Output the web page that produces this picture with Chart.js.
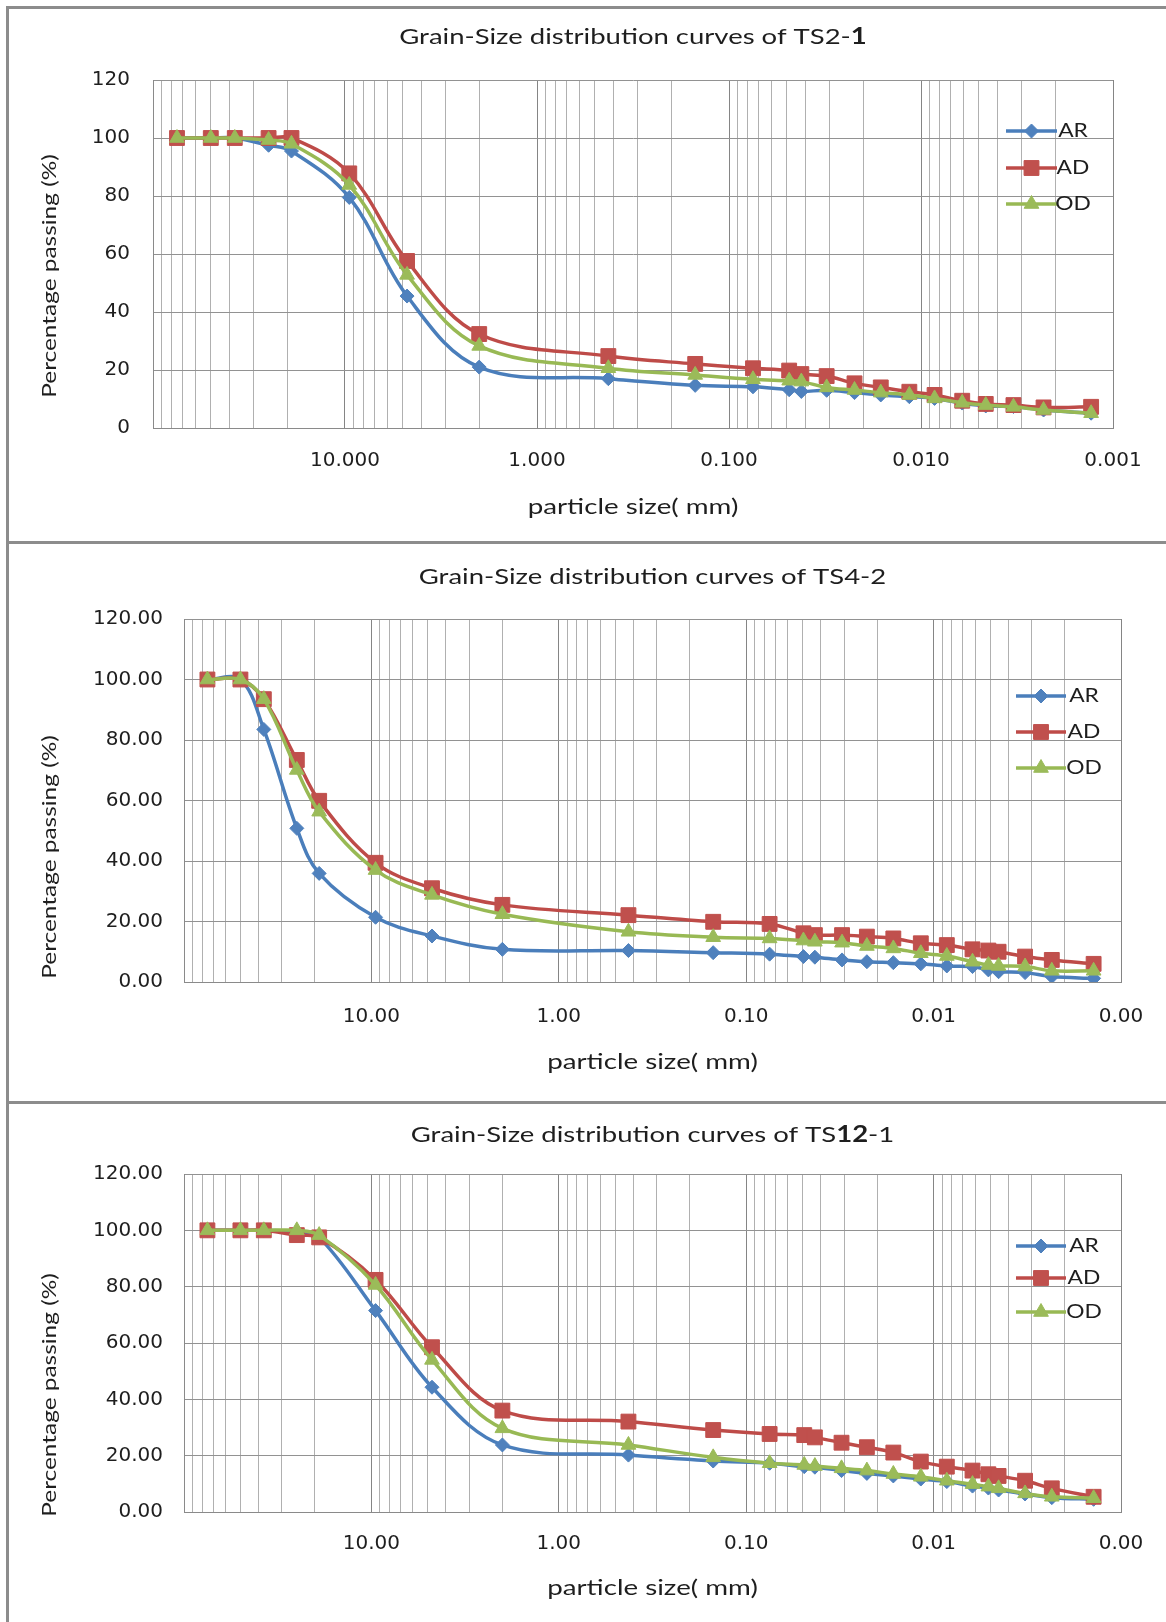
<!DOCTYPE html>
<html>
<head>
<meta charset="utf-8">
<title>Grain-Size distribution curves</title>
<script src="https://cdn.jsdelivr.net/npm/chart.js@4.4.1/dist/chart.umd.min.js"></script>
<style>
  html, body { margin: 0; padding: 0; background: #fff; }
  #page { position: relative; width: 1166px; height: 1622px; overflow: hidden; background: #fff; }
  #page canvas { position: absolute; left: 0; }
  .rule { position: absolute; background: #8c8c8c; }
</style>
</head>
<body>
<div id="page">
  <canvas id="ts21" width="1166" height="543" style="top:0"></canvas>
  <canvas id="ts42" width="1166" height="560" style="top:543px"></canvas>
  <canvas id="ts121" width="1166" height="519" style="top:1103px"></canvas>
  <div class="rule" style="left:6px;top:6px;width:3px;height:1616px"></div>
  <div class="rule" style="left:6px;top:6px;width:1160px;height:3px"></div>
  <div class="rule" style="left:6px;top:541px;width:1160px;height:3px"></div>
  <div class="rule" style="left:6px;top:1101px;width:1160px;height:3px"></div>
</div>
<script>
// ---- sample TS2-1 ----
const sizesTS21 = [75, 50, 37.5, 25, 19, 9.5, 4.75, 2.0, 0.425, 0.15, 0.075, 0.0486, 0.042, 0.031, 0.0222, 0.0162, 0.0115, 0.0085, 0.0061, 0.0046, 0.0033, 0.0023, 0.0013];
const arTS21 = [100, 100, 100, 97.5, 95.5, 79.5, 45.5, 21.0, 17.0, 14.7, 14.2, 13.2, 12.6, 13.0, 12.2, 11.4, 10.8, 10.2, 8.6, 7.6, 7.4, 6.2, 5.1];
const adTS21 = [100, 100, 100, 100, 100, 87.8, 57.6, 32.4, 24.8, 22.1, 20.6, 19.8, 18.6, 17.9, 15.4, 14.0, 12.5, 11.4, 9.4, 8.3, 7.9, 7.1, 7.3];
const odTS21 = [100, 100, 100, 99.3, 98.0, 83.8, 52.8, 28.3, 20.6, 18.3, 16.8, 16.3, 16.0, 14.0, 13.1, 12.2, 11.4, 10.2, 8.7, 7.9, 7.3, 6.2, 5.1];

// ---- sample TS4-2 ----
const sizesTS42 = [75, 50, 37.5, 25, 19, 9.5, 4.75, 2.0, 0.425, 0.15, 0.075, 0.0495, 0.043, 0.0308, 0.0227, 0.0164, 0.0117, 0.0085, 0.0062, 0.0051, 0.0045, 0.00325, 0.00234, 0.0014];
const arTS42 = [100, 100, 83.5, 50.8, 35.9, 21.4, 15.2, 10.8, 10.4, 9.7, 9.2, 8.4, 8.2, 7.3, 6.7, 6.4, 6.0, 5.3, 5.1, 4.0, 3.4, 3.1, 1.8, 1.2];
const adTS42 = [100, 100, 93.5, 73.4, 59.9, 39.4, 31.0, 25.5, 22.1, 19.9, 19.2, 16.1, 15.5, 15.5, 15.0, 14.4, 12.8, 12.2, 10.8, 10.4, 10.0, 8.4, 7.3, 6.0];
const odTS42 = [100, 100, 93.5, 70.1, 56.3, 37.0, 28.8, 22.4, 16.6, 14.8, 14.4, 13.7, 13.3, 13.0, 11.9, 11.1, 9.5, 8.6, 6.7, 5.6, 5.3, 5.1, 3.7, 3.7];

// ---- sample TS12-1 ----
const sizesTS121 = [75, 50, 37.5, 25, 19, 9.5, 4.75, 2.0, 0.425, 0.15, 0.075, 0.049, 0.043, 0.031, 0.0227, 0.0164, 0.0117, 0.0085, 0.0062, 0.0051, 0.0045, 0.00325, 0.00234, 0.0014];
const arTS121 = [100, 100, 100, 99.5, 97.5, 71.5, 44.3, 23.8, 20.2, 18.1, 17.3, 16.1, 15.9, 14.7, 13.7, 12.8, 11.7, 10.8, 9.2, 8.5, 7.8, 6.4, 5.1, 4.5];
const adTS121 = [100, 100, 100, 98.3, 97.5, 82.4, 58.5, 36.0, 32.1, 29.1, 27.7, 27.3, 26.5, 24.6, 23.0, 21.1, 17.9, 16.1, 14.7, 13.4, 12.8, 11.1, 8.4, 5.4];
const odTS121 = [100, 100, 100, 100, 98.3, 80.6, 54.0, 29.7, 23.8, 19.4, 17.3, 16.7, 16.3, 15.5, 14.7, 13.5, 12.5, 11.1, 9.9, 9.0, 8.4, 6.6, 5.4, 4.9];

// axis ticks
const seriesNames = ['AR', 'AD', 'OD'];
const xDecades = [10, 1, 0.1, 0.01, 0.001];
const xLabels3dp = ['10.000', '1.000', '0.100', '0.010', '0.001'];
const xLabels2dp = ['10.00', '1.00', '0.10', '0.01', '0.00'];
const yTicks = [0, 20, 40, 60, 80, 100, 120];
const yLabelsInt = ['0', '20', '40', '60', '80', '100', '120'];
const yLabels2dp = ['0.00', '20.00', '40.00', '60.00', '80.00', '100.00', '120.00'];

const FONT = 'Lato, "Open Sans", sans-serif';
const TICK_FONT = '"DejaVu Sans", Lato, sans-serif';
const TEXT = '#1e1e1e';

const seriesStyles = [
  { line: '#4a7ebb', fill: '#4f81bd', shape: 'rectRot', radius: 7 },
  { line: '#be4b48', fill: '#c0504d', shape: 'rect', radius: 10.5 },
  { line: '#98b954', fill: '#9bbb59', shape: 'triangle', radius: 8.5 }
];

function isDecade(v) {
  return Math.abs(Math.log10(v) - Math.round(Math.log10(v))) < 1e-6;
}

// gridline positions: 1..9 x 10^e between 0.001 and 100
function logGridValues() {
  const out = [];
  for (let e = -3; e <= 1; e++) {
    for (let m = 1; m <= 9; m++) out.push(parseFloat((m * Math.pow(10, e)).toPrecision(3)));
  }
  out.push(100);
  return out;
}

// text set a little wider than the font's natural width
function drawWide(ctx, parts, cx, cy, size, stretch) {
  let total = 0;
  parts.forEach(p => {
    ctx.font = (p.bold ? 'bold ' : '') + size + 'px ' + FONT;
    p.w = ctx.measureText(p.text).width;
    total += p.w;
  });
  ctx.save();
  ctx.translate(cx, cy);
  ctx.scale(stretch, 1);
  ctx.fillStyle = TEXT;
  ctx.textBaseline = 'middle';
  ctx.textAlign = 'left';
  let x = -total / 2;
  parts.forEach(p => {
    ctx.font = (p.bold ? 'bold ' : '') + size + 'px ' + FONT;
    ctx.fillText(p.text, x, 0);
    x += p.w;
  });
  ctx.restore();
}

// titles, axis titles and the in-plot legend
const decorations = {
  id: 'decorations',
  afterDraw(chart, args, opts) {
    const { ctx, chartArea } = chart;
    const cx = (chartArea.left + chartArea.right) / 2;

    drawWide(ctx, opts.title, cx, opts.titleY, 22, 1.25);
    drawWide(ctx, [{ text: 'particle size( mm)' }], cx, opts.xTitleY, 22, 1.26);

    ctx.save();
    ctx.translate(opts.yTitleX, opts.yTitleY);
    ctx.rotate(-Math.PI / 2);
    drawWide(ctx, [{ text: 'Percentage passing (%)' }], 0, 0, 20, 1.22);
    ctx.restore();

    const lg = opts.legend;
    chart.data.datasets.forEach((ds, i) => {
      const y = lg.rows[i];
      const st = seriesStyles[i];
      ctx.save();
      ctx.strokeStyle = st.line;
      ctx.lineWidth = 3.5;
      ctx.beginPath();
      ctx.moveTo(lg.x1, y);
      ctx.lineTo(lg.x2, y);
      ctx.stroke();
      ctx.fillStyle = st.fill;
      ctx.strokeStyle = st.fill;
      ctx.lineWidth = 1;
      Chart.helpers.drawPoint(ctx, { pointStyle: st.shape, radius: st.radius, rotation: 0, borderWidth: 1 },
        (lg.x1 + lg.x2) / 2, y);
      ctx.restore();
      drawWide(ctx, [{ text: ds.label }], lg.textX + 13, y, 19, 1.2);
    });
  }
};

function makeChart(id, sizes, series, xLabels, yLabels, L) {
  const gridValues = logGridValues();
  const datasets = series.map((vals, i) => ({
    label: seriesNames[i],
    data: sizes.map((s, k) => ({ x: s, y: vals[k] })),
    showLine: true,
    tension: 0.36,
    borderColor: seriesStyles[i].line,
    borderWidth: 3.5,
    borderJoinStyle: 'round',
    borderCapStyle: 'round',
    pointStyle: seriesStyles[i].shape,
    pointRadius: seriesStyles[i].radius,
    pointBackgroundColor: seriesStyles[i].fill,
    pointBorderColor: seriesStyles[i].fill,
    pointBorderWidth: 1,
    order: 3 - i
  }));

  return new Chart(document.getElementById(id), {
    type: 'scatter',
    data: { datasets },
    plugins: [decorations],
    options: {
      responsive: false,
      animation: false,
      events: [],
      layout: { padding: { top: L.top, right: L.right, bottom: 0, left: 0 } },
      plugins: {
        legend: { display: false },
        tooltip: { enabled: false },
        decorations: L
      },
      scales: {
        x: {
          type: 'logarithmic',
          reverse: true,
          min: 0.001,
          max: 100,
          afterBuildTicks: scale => { scale.ticks = gridValues.map(v => ({ value: v })); },
          afterFit: scale => { scale.height = L.xAxisHeight; },
          grid: {
            drawTicks: false,
            color: c => (c.tick && isDecade(c.tick.value)) ? '#858585' : '#b0b0b0',
            lineWidth: 1
          },
          border: { color: '#8a8a8a', width: 1 },
          ticks: {
            autoSkip: false,
            maxRotation: 0,
            padding: L.xTickPad,
            color: TEXT,
            font: { family: TICK_FONT, size: 20 },
            callback: v => {
              const i = xDecades.findIndex(d => Math.abs(d - v) < d * 1e-6);
              return i >= 0 ? xLabels[i] : '';
            }
          }
        },
        y: {
          min: 0,
          max: 120,
          afterFit: scale => { scale.width = L.yAxisWidth; },
          grid: { drawTicks: false, color: '#929292', lineWidth: 1 },
          border: { color: '#8a8a8a', width: 1 },
          ticks: {
            stepSize: 20,
            padding: L.yTickPad,
            color: TEXT,
            font: { family: TICK_FONT, size: 20 },
            callback: v => yLabels[yTicks.indexOf(v)]
          }
        }
      }
    }
  });
}

makeChart('ts21', sizesTS21, [arTS21, adTS21, odTS21], xLabels3dp, yLabelsInt, {
  top: 80, right: 53, yAxisWidth: 153, xAxisHeight: 115, xTickPad: 21, yTickPad: 23,
  title: [{ text: 'Grain-Size distribution curves of TS2-' }, { text: '1', bold: true }],
  titleY: 37, xTitleY: 507, yTitleX: 50, yTitleY: 276,
  legend: { x1: 1006, x2: 1057, textX: 1060, rows: [131, 168, 204] }
});

makeChart('ts42', sizesTS42, [arTS42, adTS42, odTS42], xLabels2dp, yLabels2dp, {
  top: 76, right: 45, yAxisWidth: 184, xAxisHeight: 121, xTickPad: 23, yTickPad: 21,
  title: [{ text: 'Grain-Size distribution curves of TS4-2' }],
  titleY: 34, xTitleY: 519, yTitleX: 50, yTitleY: 314,
  legend: { x1: 1016, x2: 1066, textX: 1071, rows: [153, 189, 225] }
});

makeChart('ts121', sizesTS121, [arTS121, adTS121, odTS121], xLabels2dp, yLabels2dp, {
  top: 71, right: 45, yAxisWidth: 184, xAxisHeight: 110, xTickPad: 20, yTickPad: 21,
  title: [{ text: 'Grain-Size distribution curves of TS' }, { text: '12', bold: true }, { text: '-1' }],
  titleY: 32, xTitleY: 485, yTitleX: 50, yTitleY: 292,
  legend: { x1: 1016, x2: 1066, textX: 1071, rows: [143, 175, 209] }
});
</script>
</body>
</html>
